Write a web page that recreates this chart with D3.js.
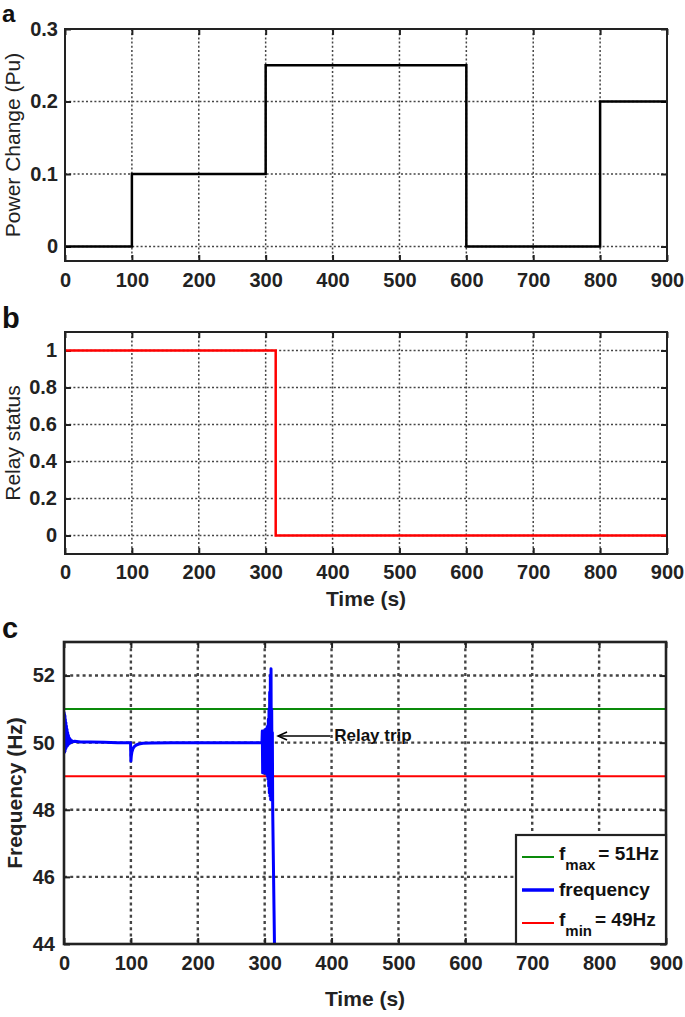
<!DOCTYPE html>
<html><head><meta charset="utf-8">
<script src="https://cdn.jsdelivr.net/npm/d3@7"></script>
<style>body{margin:0;background:#fff} svg{font-family:"Liberation Sans",Arial,Helvetica,sans-serif}</style>
</head><body><svg id="chart" width="685" height="1017"></svg>
<script>
// ---------- data ----------
const timeTicks = [0,100,200,300,400,500,600,700,800,900];
const powerTicks = [0,0.1,0.2,0.3];
const relayTicks = [0,0.2,0.4,0.6,0.8,1];
const freqTicks = [44,46,48,50,52];

const powerT = [0,100,100,300,300,600,600,800,800,900];
const powerV = [0,0,0.1,0.1,0.25,0.25,0,0,0.2,0.2];

const relayT = [0,315,315,900];
const relayV = [1,1,0,0];

const fmaxValue = 51;
const fminValue = 49;

const freqT = [0,0.2,0.5,0.8,1.1,1.4,1.7,2.0,2.4,2.8,3.2,3.6,4.0,4.5,5.0,5.5,6.0,6.6,7.2,7.9,8.6,9.4,10.3,11.5,13,16,25,40,60,80,99.5,
  100,100.6,101.5,103,105,108,112,118,130,160,200,250,296,
  296.5,297,297.5,298,298.5,299,299.5,300,300.5,301,301.5,302,302.5,303,303.5,304,304.5,305,305.5,306,306.5,307,307.5,308,308.5,309,309.5,310,310.5,311,311.5,312,313,314,315];
const freqV = [50.0,50.9,49.7,50.85,49.72,50.8,49.75,50.7,49.8,50.6,49.85,50.5,49.88,50.4,49.9,50.3,49.93,50.22,49.96,50.15,49.98,50.1,50.0,50.06,50.03,50.04,50.02,50.02,50.01,50.0,50.0,
  49.45,49.6,49.72,49.82,49.88,49.93,49.96,49.98,49.99,50.0,50.0,50.0,50.0,
  50.35,49.1,50.3,49.15,50.35,49.1,50.3,49.2,50.35,49.15,50.4,49.1,50.4,49.05,50.45,49.0,50.5,48.9,50.7,48.7,51.0,48.5,51.5,48.4,52.0,48.3,52.2,49.0,51.0,49.2,50.3,48.0,46.5,45.0,43.5];

const legendNames = [["f","max","= 51Hz"],["frequency","",""],["f","min","= 49Hz"]];
const legendColors = ["#0a8a0a","#0000ff","#ff0000"];
const annotText = "Relay trip";
const annotFrom = [398, 50.2];
const annotTo = [320, 50.2];

// ---------- drawing ----------
const svg = d3.select("#chart");
const ink = "#222";

function panel(cfg){
  const x = d3.scaleLinear().domain([0,900]).range([cfg.left,cfg.right]);
  const y = d3.scaleLinear().domain(cfg.yDomain).range([cfg.bottom,cfg.top]);
  const g = svg.append("g");
  // grid
  g.append("g").selectAll("line").data(timeTicks.filter(t=>t>0&&t<900)).join("line")
    .attr("x1",d=>x(d)).attr("x2",d=>x(d)).attr("y1",cfg.top).attr("y2",cfg.bottom)
    .attr("stroke","#444").attr("stroke-width",cfg.gridW).attr("stroke-dasharray",cfg.gridDash);
  g.append("g").selectAll("line").data(cfg.yTicks.filter(t=>y(t)>cfg.top+1 && y(t)<cfg.bottom-1)).join("line")
    .attr("y1",d=>y(d)).attr("y2",d=>y(d)).attr("x1",cfg.left).attr("x2",cfg.right)
    .attr("stroke","#444").attr("stroke-width",cfg.gridW).attr("stroke-dasharray",cfg.gridDash);
  // axes (ticks inward)
  const tickStyle = sel => { sel.select(".domain").remove(); sel.selectAll("line").attr("stroke",ink).attr("stroke-width",2);
    sel.selectAll("text").attr("fill",ink).attr("font-weight","bold").attr("font-size",20)
      .attr("font-family",'"Liberation Sans",Arial,sans-serif'); };
  g.append("g").attr("transform",`translate(0,${cfg.bottom})`)
    .call(d3.axisBottom(x).tickValues(timeTicks).tickSizeInner(-6).tickSizeOuter(0).tickPadding(cfg.xPad).tickFormat(d=>String(d)))
    .call(tickStyle);
  g.append("g").attr("transform",`translate(0,${cfg.top})`)
    .call(d3.axisTop(x).tickValues(timeTicks).tickSizeInner(-6).tickSizeOuter(0).tickFormat(""))
    .call(tickStyle);
  g.append("g").attr("transform",`translate(${cfg.left},0)`)
    .call(d3.axisLeft(y).tickValues(cfg.yTicks).tickSizeInner(-6).tickSizeOuter(0).tickPadding(cfg.yPad).tickFormat(d=>String(d)))
    .call(tickStyle);
  g.append("g").attr("transform",`translate(${cfg.right},0)`)
    .call(d3.axisRight(y).tickValues(cfg.yTicks).tickSizeInner(-6).tickSizeOuter(0).tickFormat(""))
    .call(tickStyle);
  // clip
  const id = "clip"+cfg.name;
  svg.append("clipPath").attr("id",id).append("rect")
    .attr("x",cfg.left).attr("y",cfg.top).attr("width",cfg.right-cfg.left).attr("height",cfg.bottom-cfg.top);
  const data = g.append("g").attr("clip-path",`url(#${id})`);
  // box
  g.append("rect").attr("x",cfg.left).attr("y",cfg.top).attr("width",cfg.right-cfg.left).attr("height",cfg.bottom-cfg.top)
    .attr("fill","none").attr("stroke",ink).attr("stroke-width",cfg.boxW);
  // panel letter
  svg.append("text").attr("x",2).attr("y",cfg.letterY).text(cfg.name)
    .attr("font-size",cfg.letterSize).attr("font-weight","bold").attr("fill","#111");
  // y label
  svg.append("text").attr("transform",`translate(${cfg.yLabelX},${(cfg.top+cfg.bottom)/2}) rotate(-90)`)
    .attr("text-anchor","middle").attr("dominant-baseline","central")
    .attr("font-size",cfg.yLabelSize).attr("font-weight",cfg.yLabelWeight).attr("fill",ink).text(cfg.yLabel);
  if (cfg.xLabel) svg.append("text").attr("x",(cfg.left+cfg.right)/2).attr("y",cfg.xLabelY)
    .attr("text-anchor","middle").attr("font-size",21).attr("font-weight","bold").attr("fill",ink).text(cfg.xLabel);
  return {x,y,data,g};
}

// Panel a
const pa = panel({name:"a",left:65,right:667,top:29,bottom:261,yDomain:[-0.02,0.3],yTicks:powerTicks,
  gridW:1.5,gridDash:"2,2.2",boxW:2,letterY:22,letterSize:24,yLabel:"Power Change (Pu)",yLabelX:12,yLabelSize:21,yLabelWeight:"normal",xPad:12,yPad:7});
pa.data.append("path").datum(powerT.map((t,i)=>[t,powerV[i]]))
  .attr("d",d3.line().x(d=>pa.x(d[0])).y(d=>pa.y(d[1])))
  .attr("fill","none").attr("stroke","#000").attr("stroke-width",2.5);

// Panel b
const pb = panel({name:"b",left:65,right:667,top:332,bottom:554,yDomain:[-0.1,1.1],yTicks:relayTicks,
  gridW:1.5,gridDash:"2,2.2",boxW:2,letterY:328,letterSize:29,yLabel:"Relay status",yLabelX:12,yLabelSize:21,yLabelWeight:"normal",
  xLabel:"Time (s)",xLabelY:606,xPad:11,yPad:8});
pb.data.append("path").datum(relayT.map((t,i)=>[t,relayV[i]]))
  .attr("d",d3.line().x(d=>pb.x(d[0])).y(d=>pb.y(d[1])))
  .attr("fill","none").attr("stroke","#ff0000").attr("stroke-width",2.5);

// Panel c
const pc = panel({name:"c",left:64,right:666,top:642,bottom:944,yDomain:[44,53],yTicks:freqTicks,
  gridW:2.4,gridDash:"3,3.2",boxW:2.6,letterY:638,letterSize:29,yLabel:"Frequency (Hz)",yLabelX:14,yLabelSize:21,yLabelWeight:"bold",
  xLabel:"Time (s)",xLabelY:1006,xPad:12,yPad:9});
pc.data.append("line").attr("x1",pc.x(0)).attr("x2",pc.x(900)).attr("y1",pc.y(fmaxValue)).attr("y2",pc.y(fmaxValue))
  .attr("stroke",legendColors[0]).attr("stroke-width",2);
pc.data.append("line").attr("x1",pc.x(0)).attr("x2",pc.x(900)).attr("y1",pc.y(fminValue)).attr("y2",pc.y(fminValue))
  .attr("stroke",legendColors[2]).attr("stroke-width",2);
pc.data.append("path").datum(freqT.map((t,i)=>[t,freqV[i]]))
  .attr("d",d3.line().x(d=>pc.x(d[0])).y(d=>pc.y(d[1])))
  .attr("fill","none").attr("stroke","#0000ff").attr("stroke-width",3).attr("stroke-linejoin","round");

// annotation
const ax1 = pc.x(annotFrom[0]), ay = pc.y(annotFrom[1]), ax2 = pc.x(annotTo[0]);
svg.append("line").attr("x1",ax1).attr("x2",ax2+2).attr("y1",ay).attr("y2",ay).attr("stroke","#000").attr("stroke-width",1.5);
svg.append("path").attr("d",`M${ax2+9},${ay-4}L${ax2},${ay}L${ax2+9},${ay+4}`).attr("fill","none").attr("stroke","#000").attr("stroke-width",1.5);
svg.append("text").attr("x",ax1+4).attr("y",ay).attr("dominant-baseline","central")
  .attr("font-size",17).attr("font-weight","bold").attr("fill","#111").text(annotText);

// legend
const lg = svg.append("g");
lg.append("rect").attr("x",516).attr("y",835).attr("width",150).attr("height",109)
  .attr("fill","#fff").attr("stroke",ink).attr("stroke-width",2.2);
const rowY = [857,890,923];
legendNames.forEach((nm,i)=>{
  lg.append("line").attr("x1",522).attr("x2",554).attr("y1",rowY[i]).attr("y2",rowY[i])
    .attr("stroke",legendColors[i]).attr("stroke-width",i===1?3.5:2);
  const t = lg.append("text").attr("x",559).attr("y",rowY[i]+ (i===1?6:3)).attr("font-size",19).attr("font-weight","bold").attr("fill","#111");
  t.append("tspan").text(nm[0]);
  if (nm[1]) {
    t.append("tspan").attr("font-size",15).attr("dy",10).text(nm[1]);
    t.append("tspan").attr("dy",-10).attr("dx",3).text(nm[2]);
  }
});
</script></body></html>
